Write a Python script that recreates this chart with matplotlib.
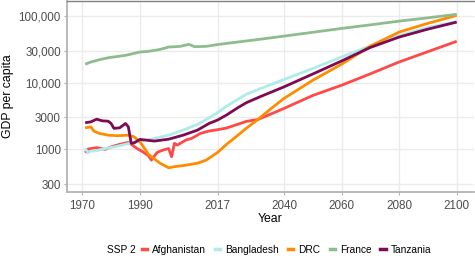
import matplotlib
matplotlib.use("Agg")
import matplotlib.pyplot as plt
from matplotlib.lines import Line2D
from matplotlib.ticker import FixedLocator, NullLocator

# --- dane (PKB per capita, SSP 2) ---
afg_years = [1971, 1972, 1975, 1978, 1980, 1983, 1986, 1987, 1989, 1991, 1993, 1994,
             1996, 1998, 2000, 2001, 2002, 2003, 2004, 2006, 2008, 2011, 2014, 2017,
             2020, 2027, 2031, 2040, 2050, 2060, 2070, 2080, 2090, 2100]
afg_gdp = [890, 1010, 1060, 1000, 1090, 1190, 1270, 1190, 1030, 920, 800, 690,
           900, 975, 1030, 775, 1230, 1160, 1230, 1380, 1460, 1730, 1880, 1970,
           2080, 2620, 2800, 4090, 6400, 9100, 13500, 20300, 29000, 41400]

bgd_years = [1971, 1972, 1973, 1975, 1978, 1982, 1985, 1990, 1995, 2000, 2005, 2010,
             2014, 2017, 2020, 2027, 2040, 2050, 2060, 2070, 2080, 2090, 2100]
bgd_gdp = [1030, 890, 940, 960, 1030, 1110, 1190, 1330, 1460, 1630, 1940, 2360,
           2960, 3550, 4400, 6700, 11100, 16200, 24100, 35500, 50800, 66500, 82000]

drc_years = [1971, 1973, 1974, 1976, 1979, 1982, 1986, 1988, 1990, 1992, 1993, 1995,
             1997, 2000, 2002, 2006, 2010, 2013, 2017, 2020, 2024, 2027, 2031, 2035,
             2040, 2050, 2060, 2070, 2080, 2090, 2100]
drc_gdp = [2100, 2170, 1880, 1730, 1630, 1600, 1630, 1540, 1300, 975, 840, 720,
           620, 530, 550, 580, 620, 690, 900, 1180, 1620, 2080, 2800, 3900,
           5770, 10800, 18800, 35000, 56900, 77000, 101000]

fra_years = [1971, 1973, 1974, 1976, 1979, 1985, 1990, 1993, 1997, 2000, 2004, 2007,
             2009, 2013, 2017, 2020, 2030, 2040, 2050, 2060, 2070, 2080, 2090, 2100]
fra_gdp = [18800, 20300, 20800, 22000, 23500, 25500, 28600, 29300, 31300, 34000, 34800, 37300,
           34400, 34800, 37000, 38500, 43500, 49500, 56500, 64500, 73000, 83000, 93000, 105000]

tza_years = [1971, 1973, 1975, 1977, 1979, 1980, 1981, 1983, 1985, 1986, 1987, 1988,
             1990, 1995, 2000, 2005, 2010, 2014, 2017, 2020, 2024, 2027, 2032, 2040,
             2050, 2060, 2070, 2080, 2090, 2100]
tza_gdp = [2500, 2580, 2830, 2670, 2640, 2440, 2060, 2100, 2440, 2170, 1230, 1250,
           1410, 1330, 1420, 1630, 1940, 2440, 2750, 3250, 4200, 5000, 6200, 8600,
           13400, 21000, 33500, 47900, 63000, 80300]

SERIES = [
    ("Afghanistan", afg_years, afg_gdp, "#FF4848"),
    ("Bangladesh", bgd_years, bgd_gdp, "#AEEBEB"),
    ("DRC", drc_years, drc_gdp, "#FF8C00"),
    ("France", fra_years, fra_gdp, "#8FBC8F"),
    ("Tanzania", tza_years, tza_gdp, "#7D0A52"),
]

x_ticks = [1970, 1990, 2017, 2040, 2060, 2080, 2100]
y_ticks = [300, 1000, 3000, 10000, 30000, 100000]
y_labels = ["300", "1000", "3000", "10,000", "30,000", "100,000"]

plt.rcParams["font.family"] = ["Liberation Sans", "DejaVu Sans"]

fig = plt.figure(figsize=(4.75, 2.56), dpi=100)
ax = fig.add_axes([67 / 475, 64 / 256, 407 / 475, 191.5 / 256])

for name, yrs, vals, col in SERIES:
    ax.plot(yrs, vals, color=col, linewidth=2.0, solid_capstyle="butt",
            solid_joinstyle="round", label=name)

ax.set_yscale("log")
ax.set_xlim(1964.7, 2106)
ax.set_ylim(230, 169000)

ax.xaxis.set_major_locator(FixedLocator(x_ticks))
ax.set_xticklabels([str(t) for t in x_ticks])
ax.yaxis.set_major_locator(FixedLocator(y_ticks))
ax.yaxis.set_minor_locator(NullLocator())
ax.set_yticklabels(y_labels)

ax.grid(True, color="#ebebeb", linewidth=1.0)
ax.set_axisbelow(True)

for side in ["left", "bottom"]:
    ax.spines[side].set_color("#b3b3b3")
    ax.spines[side].set_linewidth(1.3)
ax.spines["top"].set_color("#808080")
ax.spines["top"].set_linewidth(1.0)
ax.spines["right"].set_visible(False)

ax.tick_params(axis="both", colors="#b3b3b3", labelcolor="#4d4d4d",
               labelsize=8.4, length=2.5, width=0.8)
ax.tick_params(axis="x", pad=3)
ax.tick_params(axis="y", pad=2)

ax.set_xlabel("Year", fontsize=8.8, color="black", labelpad=1)
ax.set_ylabel("GDP per capita", fontsize=8.8, color="black", labelpad=3)

# legenda u dołu, tytuł po lewej stronie
fig.text(107 / 475, 1 - 250 / 256, "SSP 2", fontsize=7.3, va="center", ha="left")
handles = [Line2D([0], [0], color=c, linewidth=2.5) for _, _, _, c in SERIES]
fig.legend(handles, [s[0] for s in SERIES], loc="center left",
           bbox_to_anchor=(142 / 475, 1 - 250 / 256), ncol=5, frameon=False,
           fontsize=7.3, handlelength=0.5, handletextpad=0.5, columnspacing=0.9,
           borderaxespad=0, borderpad=0)

fig.savefig("out.png", dpi=100)
